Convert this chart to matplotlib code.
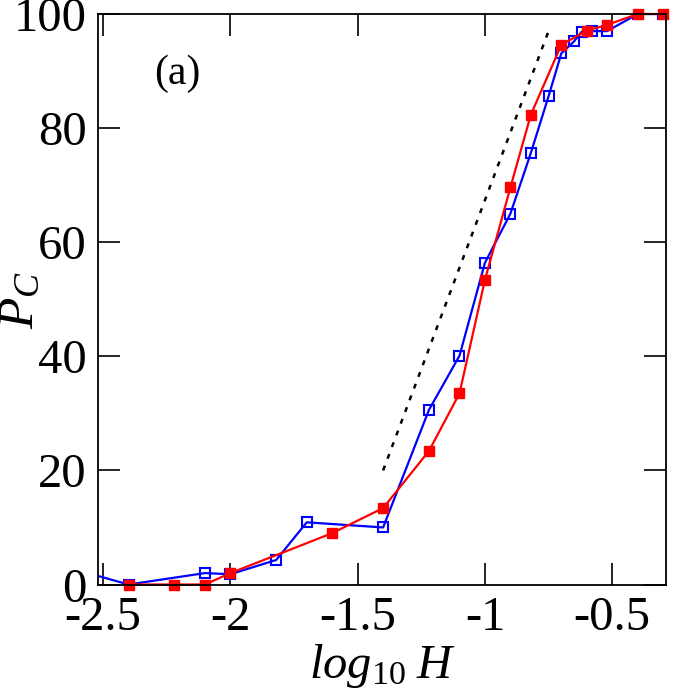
import matplotlib
matplotlib.use("Agg")
import matplotlib.pyplot as plt

plt.rcParams['font.family'] = ['Liberation Serif', 'DejaVu Serif']
plt.rcParams['mathtext.fontset'] = 'custom'
plt.rcParams['mathtext.rm'] = 'Liberation Serif'
plt.rcParams['mathtext.it'] = 'Liberation Serif:italic'

blue_x = [-2.6, -2.4, -2.1, -2.0, -1.82, -1.7, -1.4, -1.22, -1.1, -1.0, -0.9, -0.82, -0.75, -0.7, -0.65, -0.62, -0.58, -0.52, -0.4, -0.3]
blue_y = [2.5, 0.0, 2.0, 1.8, 4.3, 10.9, 10.0, 30.6, 40.1, 56.4, 65.0, 75.6, 85.6, 93.1, 95.2, 96.9, 97.0, 97.0, 100.0, 100.0]

red_x = [-2.4, -2.22, -2.1, -2.0, -1.6, -1.4, -1.22, -1.1, -1.0, -0.9, -0.82, -0.7, -0.6, -0.52, -0.4, -0.3]
red_y = [0.0, 0.0, 0.0, 2.0, 9.0, 13.4, 23.4, 33.5, 53.4, 69.6, 82.3, 94.6, 97.1, 98.1, 100.0, 100.0]

guide_x = [-1.4, -0.75]
guide_y = [20.0, 97.0]

xticks = [-2.5, -2.0, -1.5, -1.0, -0.5]
xticklabels = ['-2.5', '-2', '-1.5', '-1', '-0.5']
yticks = [0, 20, 40, 60, 80, 100]

fig = plt.figure(figsize=(7, 7), dpi=100)
ax = fig.add_axes([0.14, 0.165, 0.811, 0.815])

ax.plot(guide_x, guide_y, color='black', linestyle=(0, (2, 3)), linewidth=1.8)
ax.plot(blue_x, blue_y, color='#0000ff', linewidth=1.6, marker='s', markersize=6.5,
        markerfacecolor='none', markeredgecolor='#0000ff', markeredgewidth=1.5)
ax.plot(red_x, red_y, color='#ff0000', linewidth=1.6, marker='s', markersize=7,
        markerfacecolor='#ff0000', markeredgecolor='#ff0000', clip_on=False)

ax.set_xlim(-2.52, -0.29)
ax.set_ylim(0, 100)
ax.set_xticks(xticks)
ax.set_xticklabels(xticklabels)
ax.set_yticks(yticks)
ax.tick_params(direction='in', length=16, width=1.2, top=True, right=True,
               labelsize=35, pad=8)
for s in ax.spines.values():
    s.set_linewidth(1.3)

ax.set_xlabel(r'$\mathit{log}_{\mathit{10}}\;\mathit{H}$', fontsize=35, labelpad=2)
fig.text(0.03, 1 - 300 / 700, r'$\mathit{P}_{\mathit{C}}$', fontsize=37,
         rotation=90, ha='center', va='center')
ax.text(-2.21, 89.5, '(a)', fontsize=30, ha='center', va='center')

fig.savefig('out.png', dpi=100)
